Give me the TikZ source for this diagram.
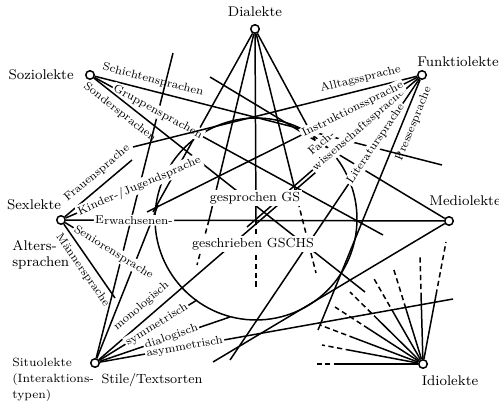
\documentclass[tikz,border=0pt]{standalone}
\usetikzlibrary{positioning}
\tikzstyle{lekt} = [circle, draw, fill=white, line width=0.85pt, inner sep=0pt, minimum size=0.17cm]
\tikzstyle{lektname} = [font=\fontsize{8}{9}\selectfont, inner sep=0pt]
\tikzstyle{variety} = [font=\fontsize{6.5}{7.2}\selectfont, sloped, inner sep=0.8pt]
\tikzstyle{cutin} = [variety, fill=white]
\tikzstyle{medium} = [font=\fontsize{7.5}{9}\selectfont, fill=white, inner sep=1pt]
\tikzstyle{link} = [line width=0.85pt]
\tikzstyle{written} = [line width=0.85pt, dash pattern=on 3pt off 2pt]

\begin{document}
\begin{tikzpicture}[x=0.02cm, y=-0.02cm]
	\useasboundingbox (0,0) rectangle (499,401);

	\node (sprachraum) [circle, draw, line width=0.85pt, minimum size=4.04cm, inner sep=0pt] at (256,219) {};
	\node (dialekte) [lekt] at (255,29) {};
	\node (funktiolekte) [lekt] at (422,75) {};
	\node (soziolekte) [lekt] at (90,75) {};
	\node (sexlekte) [lekt] at (61,220) {};
	\node (mediolekte) [lekt] at (449,221) {};
	\node (situolekte) [lekt] at (95,363) {};
	\node (idiolekte) [lekt] at (423,364) {};

	\node (dialekte_label) [lektname, above=0.15cm of dialekte] {Dialekte};
	\node (funktiolekte_label) [lektname] at (458,62) {Funktiolekte};
	\node (soziolekte_label) [lektname, left=0.22cm of soziolekte] {Soziolekte};
	\node (sexlekte_label) [lektname] at (34,205) {Sexlekte};
	\node (alterssprachen_label) [lektname, align=left, anchor=north west] at (12,240) {Alters-\\sprachen};
	\node (mediolekte_label) [lektname] at (465,201) {Mediolekte};
	\node (situolekte_label) [lektname, font=\fontsize{6.8}{8.9}\selectfont, align=left, anchor=north west] at (12,358) {Situolekte\\(Interaktions-\\typen)};
	\node (stile_label) [lektname, font=\fontsize{7.6}{9}\selectfont] at (152,380) {Stile/Textsorten};
	\node (idiolekte_label) [lektname] at (450,381) {Idiolekte};

	\coordinate (d1_end) at (153,212);
	\coordinate (d2_mid) at (209,220);
	\coordinate (d2_end) at (197,265);
	\coordinate (d3_mid) at (256,220);
	\coordinate (d3_end) at (256,290);
	\coordinate (d4_mid) at (298,202);
	\coordinate (d4_end) at (316,273);
	\coordinate (d5_end) at (316,142);
	\coordinate (schicht_end) at (442,165);
	\coordinate (gruppen_end) at (383,235);
	\coordinate (sonder_end) at (365,292);
	\coordinate (alltag_end) at (133,147);
	\coordinate (instrukt_end) at (147,212);
	\coordinate (fach_end) at (247,227);
	\coordinate (literatur_end) at (230,360);
	\coordinate (presse_end) at (318,330);
	\coordinate (frauen_end) at (132,160);
	\coordinate (kinder_end) at (195,162);
	\coordinate (senioren_end) at (150,275);
	\coordinate (maenner_end) at (115,298);
	\coordinate (medio_up_end) at (210,77);
	\coordinate (medio_down_end) at (213,362);
	\coordinate (situ_steep_end) at (173,53);
	\coordinate (situ_short_end) at (158,205);
	\coordinate (mono_end) at (330,160);
	\coordinate (sym_end) at (197,300);
	\coordinate (dia_end) at (230,317);
	\coordinate (asym_end) at (453,299);

	\draw [link] (dialekte) -- (d1_end);
	\draw [link] (dialekte) -- (d2_mid);
	\draw [written] (d2_mid) -- (d2_end);
	\draw [link] (dialekte) -- (d3_mid);
	\draw [written] (d3_mid) -- (d3_end);
	\draw [link] (dialekte) -- (d4_mid);
	\draw [written] (d4_mid) -- (d4_end);
	\draw [link] (dialekte) -- (d5_end);

	\foreach \i/\ex/\ey/\f in {1/446/242/0.55, 2/420/257/0.6, 3/393/267/0.55, 4/373/277/0.55, 5/350/292/0.6, 6/335/307/0.6, 7/320/325/0.65, 8/322/345/0.7, 9/317/364/0.78} {
		\coordinate (idio_end_\i) at (\ex,\ey);
		\path (idiolekte) -- coordinate[pos=\f] (idio_mid_\i) (idio_end_\i);
		\draw [link] (idiolekte) -- (idio_mid_\i);
		\draw [written] (idio_mid_\i) -- (idio_end_\i);
	}

	\draw [link] (mediolekte) -- (medio_up_end);
	\draw [link] (mediolekte) -- (medio_down_end);
	\draw [link] (situolekte) -- (situ_steep_end);
	\draw [link] (situolekte) -- (situ_short_end);

	\draw [link] (soziolekte) -- node[variety, above=2pt, pos=0.16] {Schichtensprachen} (schicht_end);
	\draw [link] (soziolekte) -- node[cutin, pos=0.22] {Gruppensprachen} (gruppen_end);
	\draw [link] (soziolekte) -- node[variety, below=2pt, pos=0.12] {Sondersprachen} (sonder_end);

	\draw [link] (sexlekte) -- node[variety, above=3pt, pos=0.6] {Frauensprache} (frauen_end);
	\draw [link] (sexlekte) -- node[cutin, pos=0.57] {Kinder-/Jugendsprache} (kinder_end);
	\draw [link] (sexlekte) -- node[cutin, pos=0.18] {Erwachsenen-} (mediolekte);
	\draw [link] (sexlekte) -- node[cutin, pos=0.57] {Seniorensprache} (senioren_end);
	\draw [link] (sexlekte) -- node[variety, below=2pt, pos=0.54] {Männersprache} (maenner_end);

	\draw [link] (situolekte) -- node[variety, above=3pt, pos=0.22] {monologisch} (mono_end);
	\draw [link] (situolekte) -- node[cutin, pos=0.59] {symmetrisch} (sym_end);
	\draw [link] (situolekte) -- node[cutin, pos=0.55] {dialogisch} (dia_end);
	\draw [link] (situolekte) -- node[cutin, pos=0.24] {asymmetrisch} (asym_end);

	\draw [link] (fach_end) -- node[cutin, pos=0.65] {wissenschaftssprache} node[cutin, above=5pt, pos=0.49] {Fach-} (funktiolekte);
	\draw [link] (alltag_end) -- node[variety, above=2pt, pos=0.81] {Alltagssprache} (funktiolekte);
	\draw [link] (instrukt_end) -- node[cutin, pos=0.76] {Instruktionssprache} (funktiolekte);
	\draw [link] (literatur_end) -- node[cutin, pos=0.77] {Literatursprache} (funktiolekte);
	\draw [link] (presse_end) -- node[variety, below=2pt, pos=0.84] {Pressesprache} (funktiolekte);

	\node (gs_label) [medium] at (255,198) {gesprochen GS};
	\node (gschs_label) [medium] at (253,244) {geschrieben GSCHS};

\end{tikzpicture}
\end{document}
